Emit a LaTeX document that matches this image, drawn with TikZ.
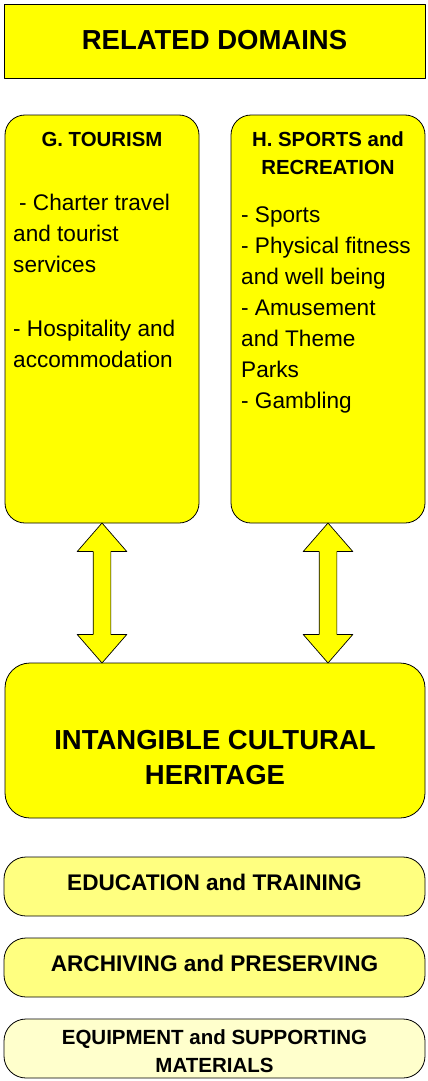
\documentclass[tikz,border=0pt]{standalone}
\usepackage{fontspec}
\setmainfont{Liberation Sans}
\usepackage{tikz}
\usetikzlibrary{shapes.arrows, positioning, calc}

\definecolor{DomYellow}{RGB}{255,255,0}
\definecolor{SoftYellow}{RGB}{255,255,128}
\definecolor{PaleYellow}{RGB}{255,255,204}

\begin{document}
\begin{tikzpicture}[
    x=1pt, y=1pt,
    line join=round,
    box/.style={draw=black, line width=0.8pt, fill=DomYellow, inner sep=0pt},
    link/.style={double arrow, draw=black, line width=0.7pt, fill=DomYellow,
        rotate=90, minimum height=140pt, minimum width=49pt,
        inner xsep=0pt, inner ysep=8.5pt,
        double arrow head extend=16pt, double arrow tip angle=82},
    bigtext/.style={font=\fontsize{27.5}{35}\selectfont\bfseries, align=center, inner sep=0pt},
    headtext/.style={font=\fontsize{20.4}{28}\selectfont\bfseries, align=center, inner sep=0pt},
    listtext/.style={font=\fontsize{22.6}{31}\selectfont, align=left, inner sep=0pt, anchor=north west},
    bandtext/.style={font=\fontsize{22.6}{28}\selectfont\bfseries, align=center, inner sep=0pt}
]
\useasboundingbox (0,0) rectangle (428,-1081);

\def\fullw{421pt}
\def\colw{194pt}
\def\bandh{59pt}

% related domains header
\node[box, minimum width=\fullw, minimum height=74pt] (related) at (214.5,-41) {};
\node[bigtext] (relatedT) at ([yshift=0.5pt]related.center) {RELATED DOMAINS};

% the two domain columns
\node[box, rounded corners=20pt, minimum width=\colw, minimum height=408pt] (tour) at (102,-319) {};
\node[box, rounded corners=20pt, minimum width=\colw, minimum height=408pt] (sport) at (328,-319) {};

\node[headtext, anchor=north] (tourT) at ([yshift=-17pt]tour.north) {G. TOURISM};
\node[headtext, anchor=north] (sportT) at ([yshift=-17pt]sport.north) {H. SPORTS and\\RECREATION};

\node[listtext] (tourL) at (13,-193.5) {\hspace*{6pt}- Charter travel\\and tourist\\services\\[33pt]- Hospitality and\\accommodation};
\node[listtext] (sportL) at (241,-207) {- Sports\\- Physical fitness\\and well being\\- Amusement\\and Theme\\Parks\\- Gambling};

% heritage block
\node[box, rounded corners=25pt, minimum width=420pt, minimum height=155pt] (ich) at (215,-740.5) {};
\node[bigtext] (ichT) at ([yshift=-17pt]ich.center) {INTANGIBLE CULTURAL\\HERITAGE};

% links between columns and heritage
\node[link] (tourLink) at ($(tour.south)!0.5!(tour.south |- ich.north)$) {};
\node[link] (sportLink) at ($(sport.south)!0.5!(sport.south |- ich.north)$) {};

% supporting bands
\node[box, fill=SoftYellow, rounded corners=22pt, minimum width=\fullw, minimum height=\bandh] (edu) at (214.5,-886.5) {};
\node[box, fill=SoftYellow, rounded corners=22pt, minimum width=\fullw, minimum height=\bandh] (arch) at (214.5,-967.5) {};
\node[box, fill=PaleYellow, rounded corners=22pt, minimum width=\fullw, minimum height=\bandh] (equip) at (214.5,-1048.5) {};

\node[bandtext] (eduT) at ([yshift=4pt]edu.center) {EDUCATION and TRAINING};
\node[bandtext] (archT) at ([yshift=4pt]arch.center) {ARCHIVING and PRESERVING};
\node[bandtext, font=\fontsize{20.5}{28}\selectfont\bfseries] (equipT) at ([yshift=-3pt]equip.center) {EQUIPMENT and SUPPORTING\\MATERIALS};

\end{tikzpicture}
\end{document}
